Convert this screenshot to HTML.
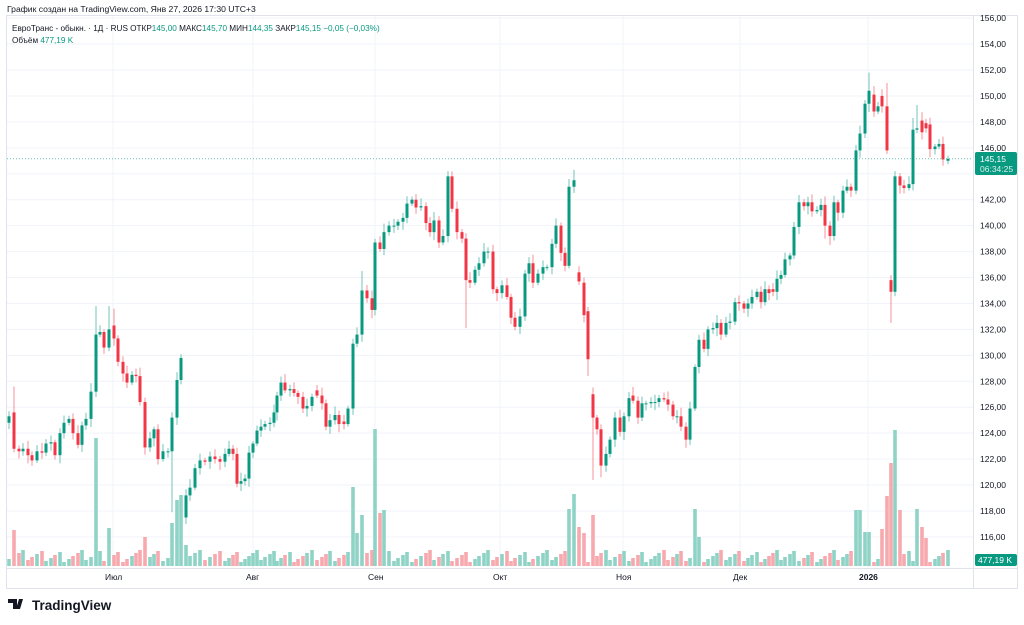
<!DOCTYPE html>
<html><head><meta charset="utf-8"><style>
body{margin:0;background:#fff;width:1024px;height:625px;overflow:hidden;font-family:"Liberation Sans","DejaVu Sans",sans-serif}
svg{display:block}
</style></head><body>
<svg id="s" width="1024" height="625" xmlns="http://www.w3.org/2000/svg" font-family="Liberation Sans, DejaVu Sans, sans-serif">
<rect width="1024" height="625" fill="#fff"/>
<text x="7" y="12" font-size="8.6" fill="#131722">График создан на TradingView.com, Янв 27, 2026 17:30 UTC+3</text>
<rect x="6.5" y="15.5" width="1011" height="573" fill="none" stroke="#e0e3eb"/>
<line x1="973.5" y1="15" x2="973.5" y2="589" stroke="#e0e3eb"/>
<line x1="7" y1="568.5" x2="1018" y2="568.5" stroke="#e0e3eb"/>
<g id="grid"></g>
<g id="vol"></g>
<g id="cdl"></g>
<g id="axis" font-size="8.5" fill="#131722"></g>
<text x="12" y="31" font-size="8.2" fill="#131722">ЕвроТранс - обыкн. · 1Д · RUS  ОТКР<tspan fill="#089981">145,00</tspan>  МАКС<tspan fill="#089981">145,70</tspan>  МИН<tspan fill="#089981">144,35</tspan>  ЗАКР<tspan fill="#089981">145,15  −0,05 (−0,03%)</tspan></text>
<text x="12" y="43" font-size="8.2" fill="#131722">Объём  <tspan fill="#089981">477,19 K</tspan></text>
<g font-size="8.5" fill="#131722">
<text x="105" y="580">Июл</text><text x="246" y="580">Авг</text><text x="368" y="580">Сен</text>
<text x="493" y="580">Окт</text><text x="616" y="580">Ноя</text><text x="733" y="580">Дек</text>
<text x="859" y="580" font-weight="bold">2026</text>
</g>
<line x1="7" y1="158.8" x2="973" y2="158.8" stroke="#089981" stroke-width="1" stroke-dasharray="1,2" opacity="0.6"/>
<rect x="975" y="152" width="42" height="23" rx="2" fill="#089981"/>
<text x="980" y="162" font-size="8.5" fill="#fff">145,15</text>
<text x="980" y="172" font-size="8.5" fill="#d8f0ea">06:34:25</text>
<rect x="975" y="554" width="42" height="12" rx="2" fill="#089981"/>
<text x="978" y="563" font-size="8.5" fill="#fff">477,19 K</text>
<g transform="translate(8,599)">
<path d="M0 0h9v10H5V4H0z M11 0h4l-3 10H8z" fill="#131722"/>
<text x="24" y="11" font-size="13.5" font-weight="bold" fill="#131722">TradingView</text>
</g>
</svg>
<script>
var P=function(p){return 70+(152-p)*12.97;};
var NS="http://www.w3.org/2000/svg";
function el(g,t,a){var e=document.createElementNS(NS,t);for(var k in a)e.setAttribute(k,a[k]);document.getElementById(g).appendChild(e);return e;}
for(var p=116;p<=156;p+=2){var y=P(p);el("grid","line",{x1:7,x2:973,y1:y,y2:y,stroke:"#f0f3fa"});
 if(p!=144){var t=el("axis","text",{x:980,y:y+3});t.textContent=p+",00";}}
[113,253,375,500,623,740,868].forEach(function(x){el("grid","line",{x1:x,x2:x,y1:16,y2:568,stroke:"#f0f3fa"});});
var D="9:125.3:124.8,14:122.8:125.6,19:122.6,23:122.8,28:122.3,32:121.9,37:122.6,42:122.5,46:123.2,51:123.3,55:122.3,60:124.0,64:124.8,69:125.1,73:124.0,78:123.1,82:124.6,86:125.1,91:127.2,96:131.6,100:131.8,104:130.6,109:132.0,114:131.3:132.3,118:129.5,123:128.6,127:127.9,132:128.5,136:128.4,140:126.4,145:122.9,150:123.6,154:124.3,158:122.0,163:122.6,168:122.6,172:125.2,177:128.1,181:129.8,186:119.2:117.5,190:119.8,195:121.3,200:121.9,205:121.8,210:122.2,215:122.0,220:121.8,225:122.4,229:122.8,233:122.4,237:120.1,241:120.3,245:120.5,249:122.5,253:123.2,257:124.2,261:124.5,265:124.7,270:124.8,274:125.6,277:126.9,281:127.9,285:127.3,290:127.4,294:127.1,298:126.8,303:125.9,307:126.1,312:126.8,317:126.9:127.3,322:126.3,326:124.5,330:125.0,335:125.4,339:124.7,344:124.7:124.9,348:125.9,353:130.9,357:131.6,362:135.0,367:134.4,372:133.5,375:138.7,380:138.2,384:139.5,389:140.0,394:140.0,398:140.3,403:140.6,407:141.7,412:142.0,416:141.4,421:141.5,426:140.2,430:139.5,434:140.4,439:138.7,443:139.2,448:143.8,452:141.3,457:139.5,462:139.0,466:135.8,470:135.6,475:136.6,479:137.1,484:138.0,488:138.0,493:135.1,497:134.8,502:135.4,507:134.5,511:132.9,515:132.2,520:133.0,525:136.3,529:137.1,533:135.6,538:136.3,543:136.8,547:136.8,552:138.6,556:140.0,561:137.9,565:136.9,569:143.0,574:143.5,579:135.7:136.4,584:133.1:135.6,588:129.7:133.4,593:125.2:127.0,597:124.3,601:121.5,606:122.4,610:123.5,615:125.2,620:124.1,624:125.3,629:126.7,633:126.5:126.9,638:125.2,642:126.3,646:126.3,651:126.4,655:126.4,659:126.7,664:126.6,668:126.2,673:125.3,677:125.3,681:124.5,686:123.5,690:125.9,695:129.1,699:131.2,704:130.5,708:132.0,713:132.1,717:132.5,721:131.6,726:132.5,730:132.6,735:134.1,739:134.0,744:133.6,748:134.0,752:134.5,757:134.9,761:134.1,765:135.1,769:134.8,773:134.9:135.1,777:135.9,781:136.2,785:137.4,790:137.7,794:139.9,799:141.8,804:141.5,808:141.8,812:141.1,817:141.2,821:141.6,825:140.0,830:139.2,834:141.8,838:141.0,843:142.7,847:143.0,851:142.7,856:145.8,860:147.1,865:149.4,869:150.4,874:148.8:150.1,878:149.2,882:149.2:150.0,887:145.8:149.2,891:134.9:135.8,895:143.8,900:143.1,904:142.9,909:143.2,913:147.4,917:147.5,922:147.2:148.1,926:147.5:147.9,930:145.9:147.8,935:146.1,939:146.3,943:145.1:146.3,948:145.15:145.0";
var HI={14:127.6,96:133.8,109:133.8,114:133.6,172:125.6,362:136.5,448:144.2,869:151.8,887:151,895:144.2,913:148.3,917:149.3,584:136,574:144.3,569:143.6};
var LO={172:117.9,466:132.1,593:120.4,601:120.6,891:132.5,588:128.4,458:137.5,830:138.5,825:139.0,186:117};
var VO={14:530,96:438,109:528,145:537,172:523,177:500,181:495,186:545,352:487,353:487,357:533,362:515,375:429,380:513,384:510,568:509,569:509,573:494,574:494,579:527,584:533,592:515,593:515,695:509,699:537,856:510,860:510,869:532,865:532,882:529,887:496,891:463,895:430,900:510,917:509,922:527,926:538};
var prev=null,i=0;
D.split(",").forEach(function(s){var a=s.split(":"),x=+a[0],c=+a[1],o=a.length>2?+a[2]:(prev==null?c:prev);
 i++;var r=((i*37)%11)/11;
 var up=c>=o,col=up?"#089981":"#f23645";
 var hi=Math.max(o,c)+0.2+r*0.5,lo=Math.min(o,c)-0.2-((i*53)%7)/7*0.5;
 if(HI[x])hi=HI[x];if(LO[x])lo=LO[x];
 el("cdl","line",{x1:x,x2:x,y1:P(hi),y2:P(lo),stroke:col,"stroke-width":1,opacity:0.55});
 var y1=P(Math.max(o,c)),y2=P(Math.min(o,c));if(y2-y1<1){y2=y1+1;}
 el("cdl","rect",{x:x-1.5,y:y1,width:3,height:y2-y1,fill:col});
 var vt=VO[x]||VO[x-1]||VO[x+1]||(566-(4+((i*29)%13)));
 el("vol","rect",{x:x-1.8,y:vt,width:3.6,height:566-vt,fill:up?"#8fd3c7":"#f7a9ae"});
 prev=c;});
</script>
</body></html>
